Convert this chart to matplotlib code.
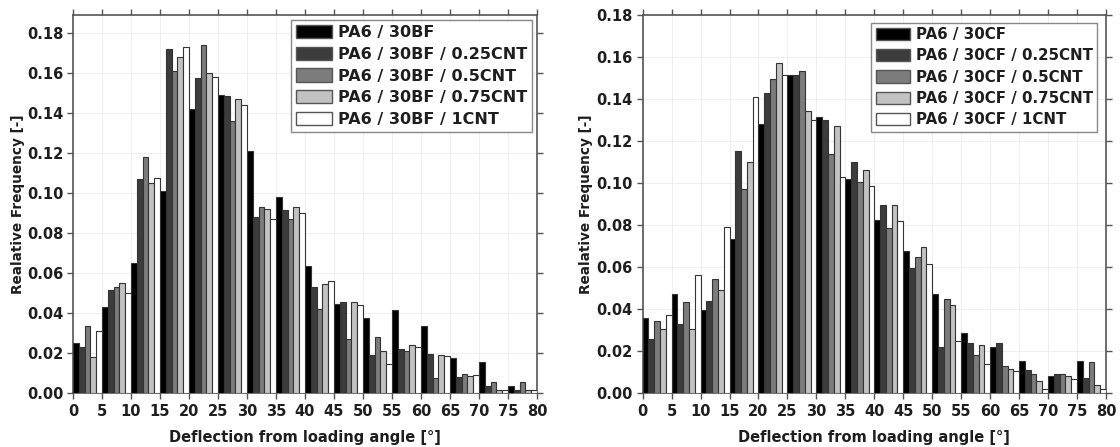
import matplotlib
matplotlib.use("Agg")
import matplotlib.pyplot as plt
import numpy as np

plt.rcParams['font.family'] = ['DejaVu Sans']
plt.rcParams['font.weight'] = 'bold'

# bin starts (5 degree bins, five series per bin)
BINS = np.arange(0, 80, 5)

BF_LABELS = ["PA6 / 30BF", "PA6 / 30BF / 0.25CNT", "PA6 / 30BF / 0.5CNT",
             "PA6 / 30BF / 0.75CNT", "PA6 / 30BF / 1CNT"]
CF_LABELS = ["PA6 / 30CF", "PA6 / 30CF / 0.25CNT", "PA6 / 30CF / 0.5CNT",
             "PA6 / 30CF / 0.75CNT", "PA6 / 30CF / 1CNT"]

bf_0    = [0.025, 0.043, 0.065, 0.101, 0.142, 0.149, 0.121, 0.098, 0.0635, 0.0442, 0.0375, 0.0413, 0.0333, 0.0174, 0.0152, 0.0032]
bf_025  = [0.023, 0.0513, 0.107, 0.172, 0.1575, 0.1485, 0.0877, 0.0913, 0.053, 0.0455, 0.019, 0.0218, 0.0195, 0.0080, 0.0032, 0.0012]
bf_05   = [0.0335, 0.053, 0.118, 0.161, 0.174, 0.136, 0.093, 0.0867, 0.0417, 0.0267, 0.0277, 0.0208, 0.0075, 0.0094, 0.0055, 0.0055]
bf_075  = [0.018, 0.055, 0.105, 0.168, 0.160, 0.147, 0.0917, 0.093, 0.0543, 0.0452, 0.021, 0.0238, 0.0191, 0.0085, 0.0015, 0.0015]
bf_1    = [0.031, 0.0497, 0.1075, 0.173, 0.158, 0.144, 0.0867, 0.0897, 0.056, 0.0438, 0.0142, 0.0227, 0.0183, 0.0089, 0.0015, 0.0012]

cf_0    = [0.0358, 0.0471, 0.0395, 0.0732, 0.128, 0.1512, 0.1314, 0.1018, 0.0824, 0.0673, 0.0471, 0.0285, 0.0216, 0.0150, 0.0080, 0.0150]
cf_025  = [0.0255, 0.0326, 0.0439, 0.115, 0.1426, 0.1515, 0.1300, 0.1098, 0.0896, 0.0593, 0.0220, 0.0235, 0.0235, 0.0107, 0.0091, 0.0070]
cf_05   = [0.0342, 0.0431, 0.0541, 0.097, 0.1496, 0.1532, 0.1138, 0.1002, 0.0784, 0.0649, 0.0447, 0.0179, 0.0126, 0.0091, 0.0091, 0.0144]
cf_075  = [0.0302, 0.0302, 0.0490, 0.110, 0.1572, 0.1344, 0.1273, 0.1060, 0.0893, 0.0692, 0.0418, 0.0226, 0.0115, 0.0056, 0.0080, 0.0038]
cf_1    = [0.0371, 0.0562, 0.0788, 0.1408, 0.1512, 0.1298, 0.1028, 0.0983, 0.0816, 0.0613, 0.0247, 0.0139, 0.0104, 0.0016, 0.0067, 0.0016]

FILLS = ["#000000", "#3c3c3c", "#7c7c7c", "#c2c2c2", "#ffffff"]
EDGE = "#333333"
TXT = "#1e1e1e"


def draw_panel(ax, series, labels, ytop, yticks, leg_size, leg_anchor):
    for k, (vals, lab) in enumerate(zip(series, labels)):
        ax.bar(BINS + k, vals, width=1.0, align='edge', color=FILLS[k],
               edgecolor=EDGE, linewidth=0.8, label=lab, zorder=3)
    ax.set_xlim(0, 80)
    ax.set_ylim(0, ytop)
    ax.set_xticks(np.arange(0, 81, 5))
    ax.set_yticks(yticks)
    ax.set_yticklabels(["%.2f" % t for t in yticks])
    ax.grid(True, color="#ececec", linewidth=0.6, zorder=0)
    ax.tick_params(direction='out', length=4, width=1.0, color="#555555",
                   labelsize=10.5, labelcolor=TXT, top=True, right=True, pad=3)
    ax.tick_params(axis='x', pad=4)
    for s in ax.spines.values():
        s.set_color("#555555")
        s.set_linewidth(1.2)
    ax.set_xlabel("Deflection from loading angle [°]", fontsize=10.5, fontweight='bold',
                  color=TXT, labelpad=8)
    ax.set_ylabel("Realative Frequency [-]", fontsize=9.8, fontweight='bold', color=TXT)
    leg = ax.legend(loc='upper right', bbox_to_anchor=leg_anchor, fontsize=leg_size,
                    handlelength=2.3, handleheight=0.9, labelspacing=0.42,
                    handletextpad=0.35, borderpad=0.3, borderaxespad=0.0,
                    fancybox=False, framealpha=1)
    leg.get_frame().set_edgecolor("#888888")
    leg.get_frame().set_linewidth(1.0)
    for t in leg.get_texts():
        t.set_color(TXT)
    for h in leg.legend_handles:
        h.set_edgecolor("#555555")
        h.set_linewidth(1.0)
    return leg


fig = plt.figure(figsize=(11.2, 4.47), dpi=100)
ax1 = fig.add_axes([0.0652, 0.1215, 0.4143, 0.845])
ax2 = fig.add_axes([0.5738, 0.1215, 0.4137, 0.845])

yt = np.arange(0, 0.181, 0.02)
draw_panel(ax1, [bf_0, bf_025, bf_05, bf_075, bf_1], BF_LABELS, 0.189, yt,
           11.5, (0.989, 0.987))
draw_panel(ax2, [cf_0, cf_025, cf_05, cf_075, cf_1], CF_LABELS, 0.18, yt,
           10.8, (0.981, 0.980))
ax1.yaxis.set_label_coords(-0.103, 0.5)
ax2.yaxis.set_label_coords(-0.107, 0.5)

fig.savefig("out.png", dpi=100)
